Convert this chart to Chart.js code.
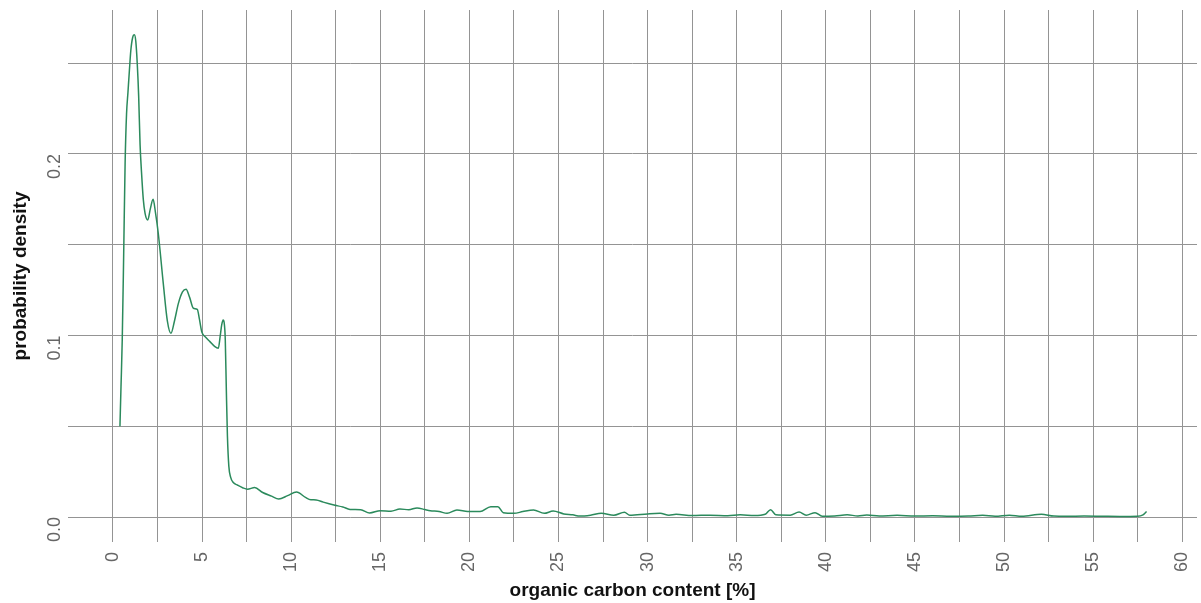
<!DOCTYPE html>
<html>
<head>
<meta charset="utf-8">
<script src="https://cdn.jsdelivr.net/npm/chart.js@4"></script>
<style>
  body { margin: 0; background: #fff; }
  #wrap { width: 1201px; height: 603px; }
</style>
</head>
<body>
<div id="wrap"><canvas id="densityChart" width="1201" height="603"></canvas></div>
<script>
// organic carbon content [%] (x) and probability density (y)
const carbonPct = [
    0.39, 0.45, 0.52, 0.60, 0.68, 0.76, 0.84, 0.92, 1.00, 1.10,
    1.20, 1.28, 1.36, 1.44, 1.52, 1.60, 1.70, 1.80, 1.95, 2.10,
    2.25, 2.38, 2.54, 2.82, 3.05, 3.25, 3.45, 3.67, 3.90, 4.10,
    4.30, 4.51, 4.73, 4.85, 4.98, 5.20, 5.44, 5.70, 5.91, 6.02,
    6.10, 6.18, 6.24, 6.30, 6.36, 6.42, 6.50, 6.60, 6.75, 7.00,
    7.30, 7.55, 7.95, 8.40, 8.90, 9.30, 9.80, 10.3, 10.8, 11.1,
    11.4, 11.8, 12.4, 12.9, 13.3, 13.9, 14.4, 15.0, 15.6, 16.1,
    16.6, 17.06, 17.5, 17.8, 18.3, 18.75, 19.3, 19.9, 20.6, 21.2,
    21.6, 21.9, 22.5, 23.0, 23.6, 24.2, 24.7, 25.3, 25.8, 26.2,
    26.8, 27.4, 28.1, 28.7, 29.0, 30.0, 30.7, 31.2, 31.6, 32.5,
    33.5, 34.5, 35.2, 36.0, 36.6, 36.9, 37.2, 38.0, 38.5, 38.9,
    39.4, 39.8, 40.5, 41.2, 41.8, 42.3, 43.0, 44.0, 45.0, 46.0,
    47.0, 48.0, 48.8, 49.5, 50.3, 51.0, 52.1, 52.8, 53.5, 54.5,
    55.5, 56.5, 57.5, 57.8, 58.0
];
const density = [
    0.050, 0.072, 0.098, 0.145, 0.195, 0.222, 0.234, 0.246, 0.257, 0.264,
    0.2656, 0.262, 0.250, 0.232, 0.205, 0.190, 0.175, 0.1673, 0.1636, 0.170,
    0.175, 0.168, 0.1563, 0.1288, 0.108, 0.1012, 0.108, 0.1177, 0.124, 0.1255,
    0.121, 0.115, 0.1144, 0.109, 0.1021, 0.099, 0.0966, 0.094, 0.093, 0.100,
    0.1058, 0.1085, 0.107, 0.098, 0.070, 0.045, 0.028, 0.022, 0.019, 0.0175,
    0.016, 0.0153, 0.0162, 0.0135, 0.0115, 0.0099, 0.0118, 0.0138, 0.0108, 0.0095,
    0.0094, 0.0082, 0.0066, 0.0055, 0.0042, 0.0040, 0.0022, 0.0035, 0.0032, 0.0044,
    0.0040, 0.0050, 0.0041, 0.0035, 0.0030, 0.0020, 0.0039, 0.0031, 0.0030, 0.0057,
    0.0057, 0.0024, 0.0020, 0.0030, 0.0039, 0.0020, 0.0033, 0.0017, 0.0012, 0.0005,
    0.0010, 0.0020, 0.0010, 0.0026, 0.0010, 0.0017, 0.0020, 0.0010, 0.0015, 0.0008,
    0.0010, 0.0007, 0.0012, 0.0008, 0.0015, 0.0040, 0.0012, 0.0010, 0.0027, 0.0010,
    0.0024, 0.0004, 0.0006, 0.0012, 0.0006, 0.0011, 0.0006, 0.0009, 0.0005, 0.0007,
    0.0004, 0.0005, 0.0009, 0.0004, 0.0010, 0.0004, 0.0015, 0.0005, 0.0004, 0.0005,
    0.0004, 0.0003, 0.0004, 0.0012, 0.0030
];

// grid positions (every line) and which ones carry a label
const xGridTicks = [0, 2.5, 5, 7.5, 10, 12.5, 15, 17.5, 20, 22.5, 25, 27.5, 30,
    32.5, 35, 37.5, 40, 42.5, 45, 47.5, 50, 52.5, 55, 57.5, 60];
const yGridTicks = [0, 0.05, 0.1, 0.15, 0.2, 0.25];
const xLabelled = [0, 5, 10, 15, 20, 25, 30, 35, 40, 45, 50, 55, 60];
const yLabelled = [0, 0.1, 0.2];

const gridColor = '#949494';
const fontFamily = '"Liberation Sans", Arial, sans-serif';

const points = carbonPct.map((x, i) => ({ x: x, y: density[i] }));

// the rotated labels would otherwise push the plot area inwards
function noScalePadding(scale) {
    scale.paddingLeft = 0;
    scale.paddingRight = 0;
    scale.paddingTop = 0;
    scale.paddingBottom = 0;
}

const ctx = document.getElementById('densityChart').getContext('2d');
new Chart(ctx, {
    type: 'line',
    data: {
        datasets: [{
            label: 'density',
            data: points,
            borderColor: '#2b8a5c',
            borderWidth: 1.5,
            pointRadius: 0,
            fill: false,
            tension: 0.4,
            cubicInterpolationMode: 'monotone'
        }]
    },
    options: {
        responsive: false,
        animation: false,
        layout: { padding: { top: 10, right: 4, left: 0, bottom: 0 } },
        plugins: {
            legend: { display: false },
            tooltip: { enabled: false }
        },
        scales: {
            x: {
                type: 'linear',
                min: -2.525,
                max: 60.83,
                afterBuildTicks: scale => {
                    scale.ticks = xGridTicks.map(v => ({ value: v }));
                },
                afterFit: scale => {
                    scale.height = 61;
                    noScalePadding(scale);
                },
                grid: { color: gridColor, lineWidth: 1, drawTicks: false },
                border: { display: false },
                ticks: {
                    autoSkip: false,
                    minRotation: 90,
                    maxRotation: 90,
                    padding: 10,
                    color: '#666',
                    font: { family: fontFamily, size: 18 },
                    callback: v => xLabelled.includes(v) ? String(v) : ''
                },
                title: {
                    display: true,
                    text: 'organic carbon content [%]',
                    color: '#111',
                    font: { family: fontFamily, size: 19, weight: 'bold' },
                    padding: { top: 0, bottom: 1 }
                }
            },
            y: {
                type: 'linear',
                min: -0.01377,
                max: 0.2793,
                afterBuildTicks: scale => {
                    scale.ticks = yGridTicks.map(v => ({ value: v }));
                },
                afterFit: scale => {
                    scale.width = 68;
                    noScalePadding(scale);
                },
                grid: { color: gridColor, lineWidth: 1, drawTicks: false },
                border: { display: false },
                ticks: {
                    minRotation: 90,
                    maxRotation: 90,
                    padding: 13,
                    color: '#666',
                    font: { family: fontFamily, size: 18 },
                    callback: v => yLabelled.some(t => Math.abs(t - v) < 1e-9) ? v.toFixed(1) : ''
                },
                title: {
                    display: true,
                    text: 'probability density',
                    color: '#111',
                    font: { family: fontFamily, size: 19, weight: 'bold' },
                    padding: { top: 9, bottom: 0 }
                }
            }
        }
    }
});
</script>
</body>
</html>
